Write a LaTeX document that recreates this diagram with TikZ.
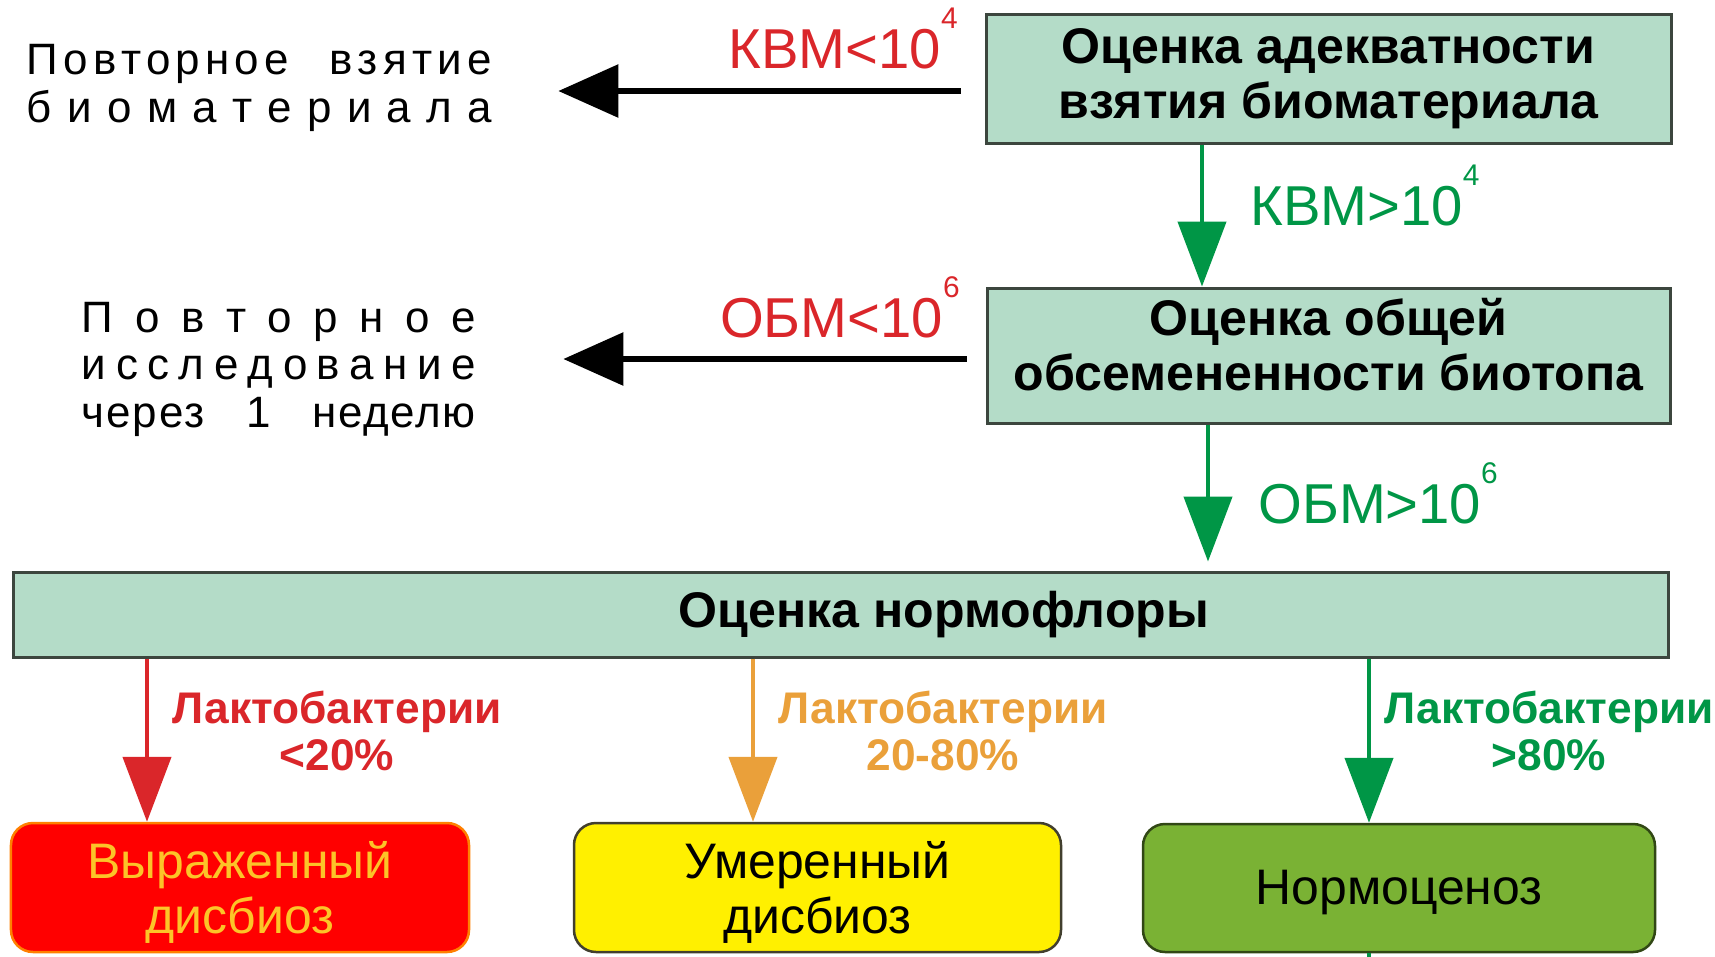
\documentclass[tikz,border=0pt]{standalone}
\usepackage{fontspec}
\setmainfont{Liberation Sans}
\usetikzlibrary{arrows.meta}

\definecolor{mint}{RGB}{180,220,200}
\definecolor{frame}{RGB}{60,70,62}
\definecolor{okgreen}{RGB}{0,150,70}
\definecolor{badred}{RGB}{218,38,42}
\definecolor{midorange}{RGB}{234,160,58}
\definecolor{alarm}{RGB}{255,0,0}
\definecolor{alarmtext}{RGB}{252,196,40}
\definecolor{warnyellow}{RGB}{255,240,0}
\definecolor{normgreen}{RGB}{122,178,52}

% letters spread over a fixed width
\newcommand\spreadline[2]{\makebox[#1][s]{\spreadfirst#2\relax}}
\def\spreadfirst#1{#1\spreadrest}
\def\spreadrest#1{\ifx#1\relax\else\hfill#1\expandafter\spreadrest\fi}
% words spread over a fixed width
\newcommand\wordline[3][8]{\makebox[#2][s]{\addfontfeature{LetterSpace=#1}#3}}
\newcommand\pw[1]{\raisebox{0.7em}{\fontsize{17}{17}\selectfont #1}}

\begin{document}
\begin{tikzpicture}[x=0.2mm, y=-0.2mm,
  box/.style={draw=frame, line width=0.6mm, fill=mint, align=center, inner sep=0pt,
    font=\fontsize{28.5}{31}\selectfont\bfseries},
  result/.style={line width=0.5mm, rounded corners=4.4mm, align=center, inner sep=0pt,
    minimum height=25.8mm, text depth=-1.5mm, font=\fontsize{28.4}{31}\selectfont},
  back/.style={line width=1.2mm, -{Triangle[length=12mm, width=10.4mm]}},
  go/.style={line width=0.9mm, -{Triangle[length=13mm, width=9.6mm]}},
  cond/.style={inner sep=0pt, font=\fontsize{32}{36}\selectfont},
  share/.style={inner sep=0pt, align=center, font=\fontsize{25.2}{26.7}\selectfont\bfseries},
  side/.style={inner sep=0pt, align=left, font=\fontsize{25}{27}\selectfont}]
	\useasboundingbox (0,0) rectangle (1715,956);
	\clip (0,0) rectangle (1715,956);
	% checks
	\node[box, minimum width=137mm, minimum height=25.8mm] (adequacy) at (1328.5,78.5) {Оценка адекватности\\взятия биоматериала};
	\node[box, minimum width=136.6mm, minimum height=27mm, text depth=4.4mm] (seeding) at (1328.5,355.5) {Оценка общей\\обсемененности биотопа};
	\node[box, minimum width=330.8mm, minimum height=17mm] (flora) at (841,614.5) {\hspace*{41.2mm}Оценка нормофлоры};
	% outcomes
	\node[result, fill=alarm, draw=orange, text=alarmtext, minimum width=91.6mm] (severe) at (240,887.5) {Выраженный\\дисбиоз};
	\node[result, fill=warnyellow, draw=black!70!olive, minimum width=97.4mm] (moderate) at (817.5,887.5) {Умеренный\\дисбиоз};
	\node[result, fill=normgreen, draw=black!60!normgreen, minimum width=102.4mm, minimum height=25.6mm, text depth=0.3mm] (normal) at (1399,888) {Нормоценоз};
	% repeats
	\node[side] (retake) at (259.5,88) {\wordline[12]{93mm}{Повторное\hfill взятие}\\\spreadline{93mm}{биоматериала}};
	\node[side] (recheck) at (279,369) {\spreadline{78.8mm}{Повторное}\\\spreadline{78.8mm}{исследование}\\\wordline[4]{78.8mm}{через\hfill 1\hfill неделю}};
	% conditions
	\node[cond, text=badred, anchor=base east] (kvmlow) at (958,68) {КВМ<10\pw{4}};
	\node[cond, text=badred, anchor=base east] (obmlow) at (960,337) {ОБМ<10\pw{6}};
	\node[cond, text=okgreen, anchor=base west] (kvmhigh) at (1250,225) {КВМ>10\pw{4}};
	\node[cond, text=okgreen, anchor=base west] (obmhigh) at (1258,523) {ОБМ>10\pw{6}};
	\node[share, text=badred] (low) at (337,731) {Лактобактерии\\<20\%};
	\node[share, text=midorange] (mid) at (943,731) {Лактобактерии\\20-80\%};
	\node[share, text=okgreen] (high) at (1549,731) {Лактобактерии\\>80\%};
	% arrows
	\draw[back, shorten <=4.8mm, shorten >=13.2mm] (adequacy.west |- 0,91) -- (retake.east |- 0,91);
	\draw[back, shorten <=3.8mm, shorten >=17.4mm] (seeding.west |- 0,359) -- (recheck.east |- 0,359);
	\draw[go, okgreen] (adequacy.south -| 1202,0) -- (seeding.north -| 1202,0);
	\draw[go, okgreen, shorten >=1.8mm] (seeding.south -| 1208,0) -- (flora.north -| 1208,0);
	\draw[go, badred] (flora.south -| 147,0) -- (severe.north -| 147,0);
	\draw[go, midorange] (flora.south -| 753,0) -- (moderate.north -| 753,0);
	\draw[go, okgreen] (flora.south -| 1369,0) -- (normal.north -| 1369,0);
	\coordinate (exit) at (1369,970);
	\draw[okgreen, line width=0.9mm] (normal.south -| 1369,0) -- (exit);
\end{tikzpicture}
\end{document}
